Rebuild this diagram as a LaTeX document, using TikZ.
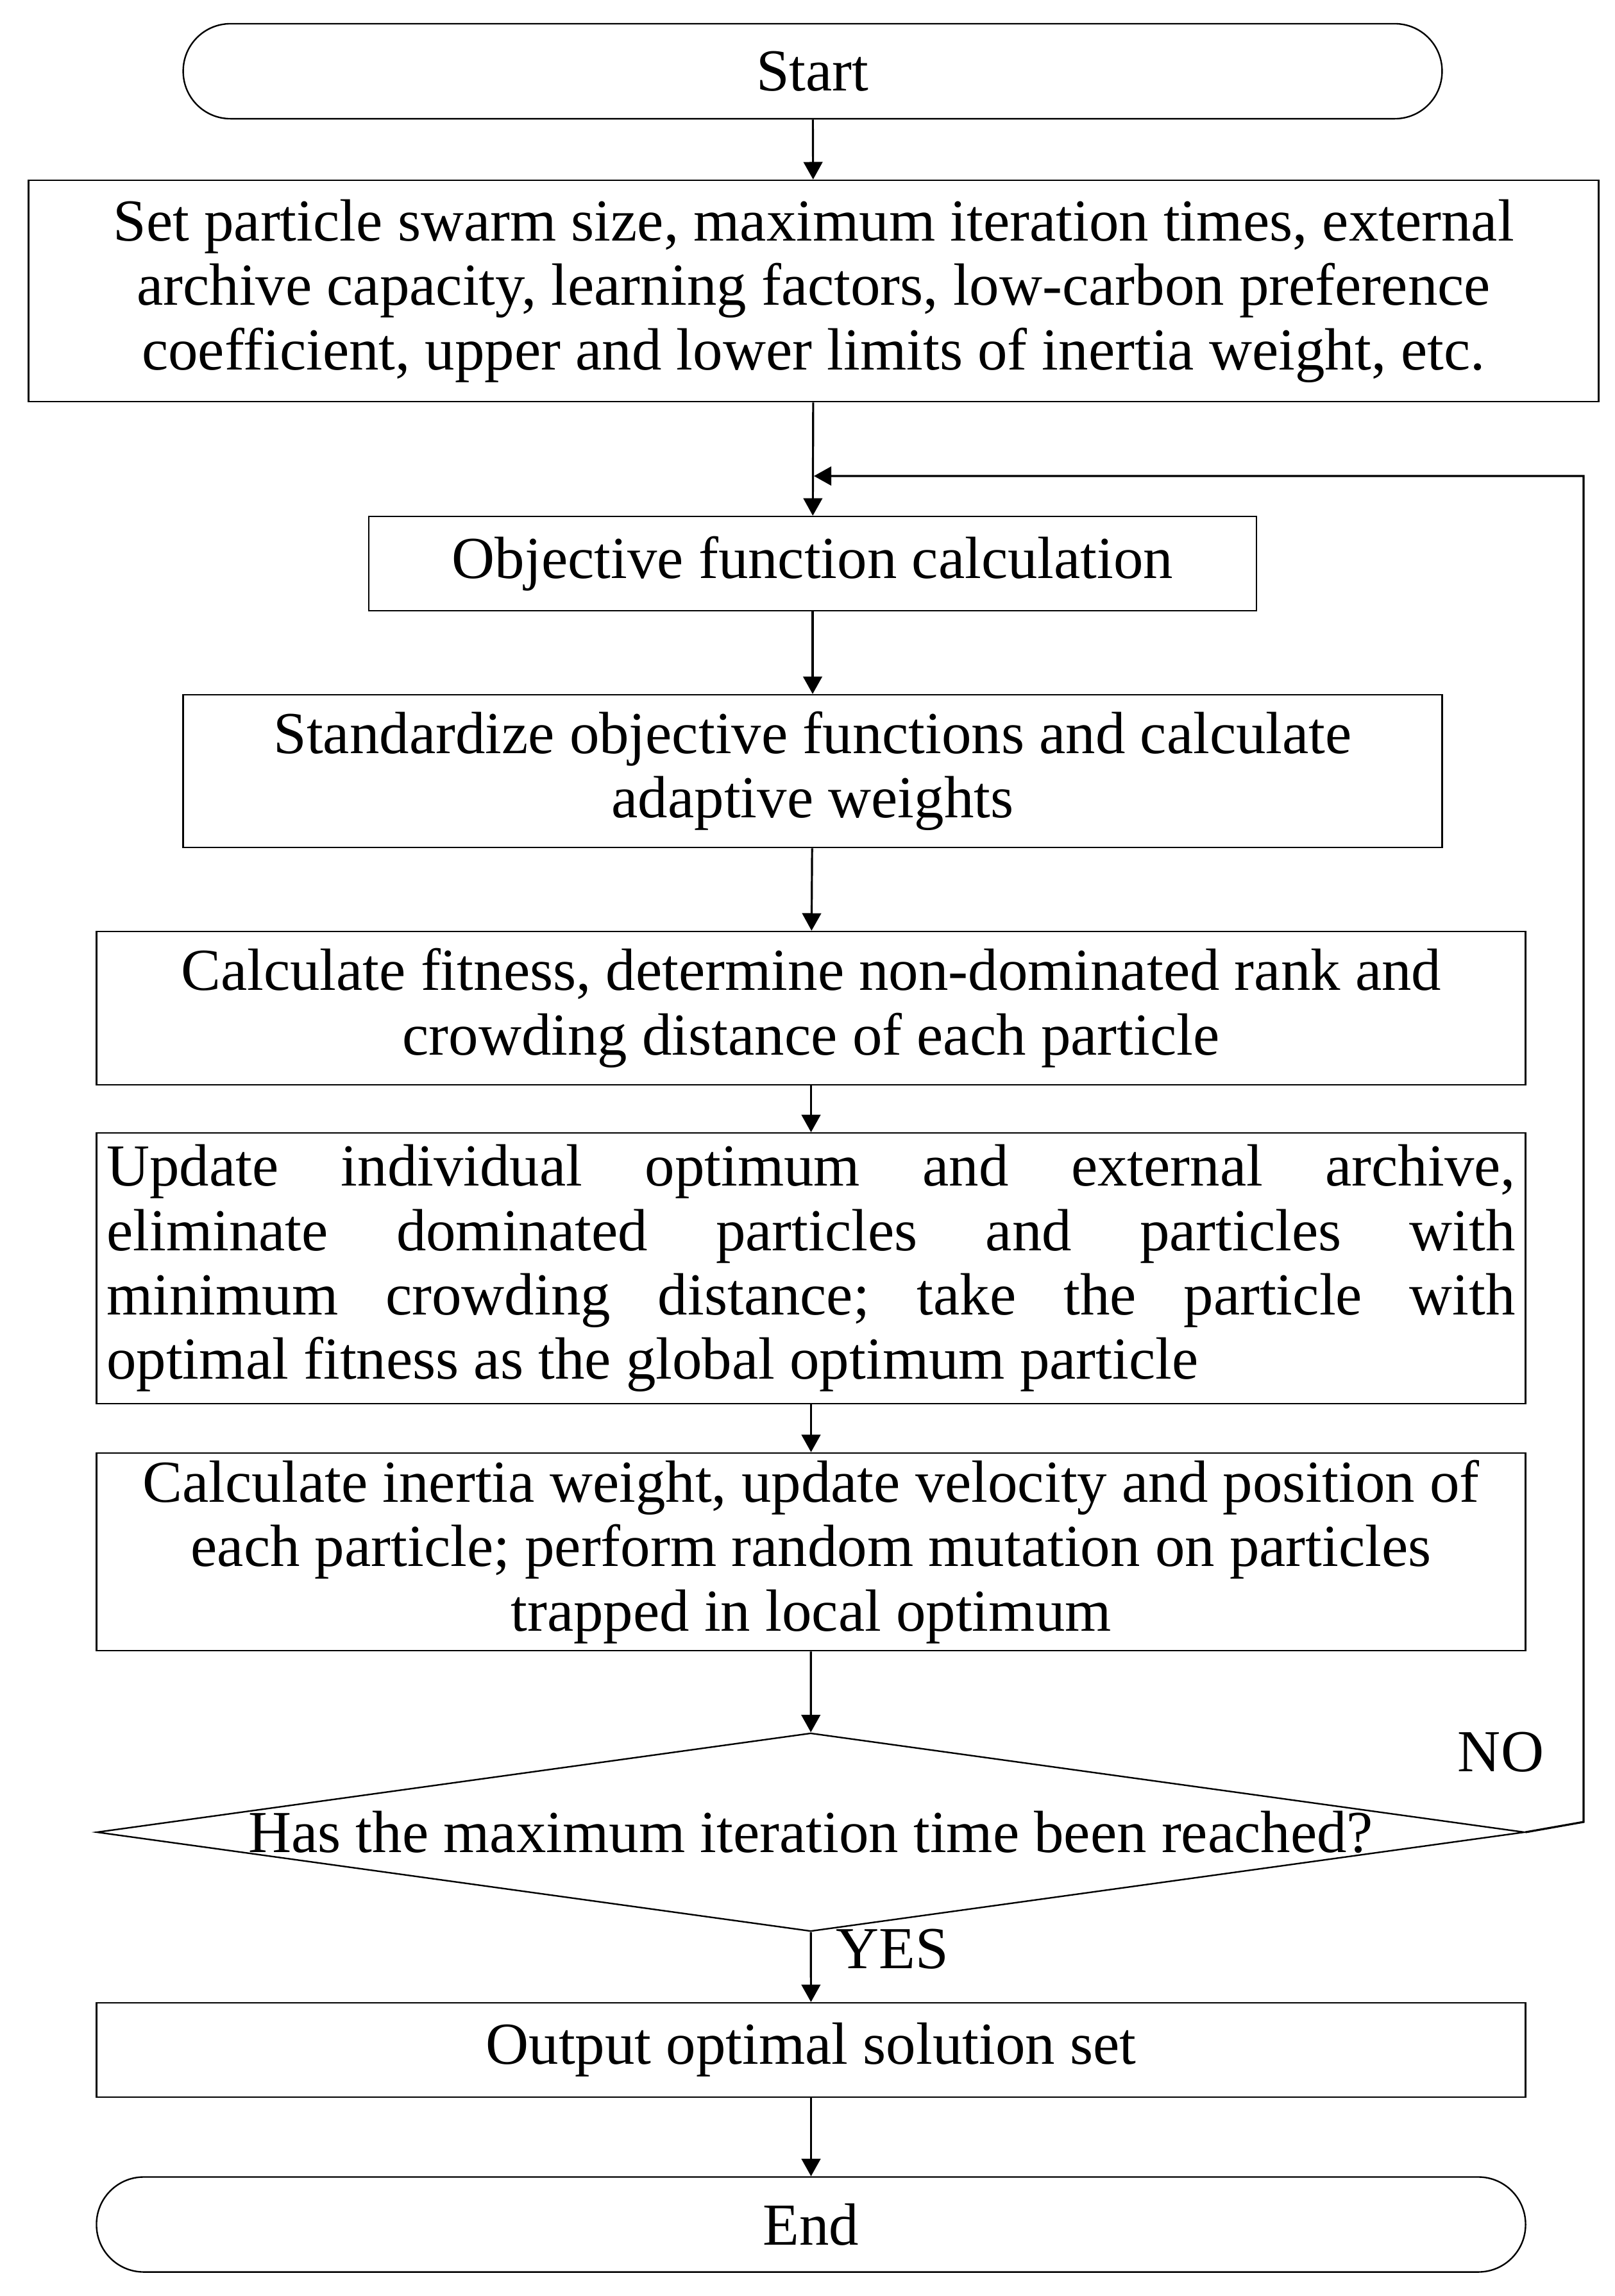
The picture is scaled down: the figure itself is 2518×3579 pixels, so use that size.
\documentclass[tikz,border=0pt]{standalone}
\usepackage{fontspec}
\setmainfont{Liberation Serif}
\usepackage{tikz}
\usetikzlibrary{shapes.geometric, arrows.meta}

\begin{document}
\begin{tikzpicture}[x=0.008825cm, y=-0.008825cm,
    font=\fontsize{23.3}{25.2}\selectfont\frenchspacing,
    terminal/.style={draw, line width=0.6pt, rounded corners=0.65cm, minimum width=17.31cm, minimum height=1.306cm, inner sep=0pt},
    process/.style={draw, line width=0.6pt, align=center, minimum width=19.65cm, inner sep=0pt},
    decision/.style={draw, line width=0.6pt, diamond, aspect=7.2, inner sep=0pt, minimum width=19.60cm, minimum height=2.71cm},
    flow/.style={line width=0.8pt, -{Triangle[length=2.4mm, width=2.6mm]}}]

    \useasboundingbox (0,0) rectangle (2518,3579);

    % Nodes of the flow chart
    \node[terminal] (start) at (1267,111) {Start};
    \node[process, minimum width=21.59cm, minimum height=3.045cm] (setup) at (1268.5,453.5)
        {Set particle swarm size, maximum iteration times, external\\
         archive capacity, learning factors, low-carbon preference\\
         coefficient, upper and lower limits of inertia weight, etc.};
    \node[process, minimum width=12.21cm, minimum height=1.297cm] (obj) at (1267,878.5)
        {Objective function calculation};
    \node[process, minimum width=17.31cm, minimum height=2.10cm] (std) at (1267,1202)
        {Standardize objective functions and calculate\\ adaptive weights};
    \node[process, minimum height=2.11cm] (fit) at (1264.5,1571.5)
        {Calculate fitness, determine non-dominated rank and\\ crowding distance of each particle};
    \node[process, minimum height=3.72cm, text width=19.37cm, align=justify] (upd) at (1264.5,1977)
        {Update individual optimum and external archive,\linebreak
         eliminate dominated particles and particles with\linebreak
         minimum crowding distance; take the particle with\linebreak
         optimal fitness as the global optimum particle};
    \node[process, minimum height=2.72cm] (inr) at (1264.5,2419)
        {Calculate inertia weight, update velocity and position of\\
         each particle; perform random mutation on particles\\
         trapped in local optimum};
    \node[decision] (dec) at (1264,2856) {Has the maximum iteration time been reached?};
    \node[process, minimum height=1.297cm] (out) at (1264.5,3195.5) {Output optimal solution set};
    \node[terminal, minimum width=19.65cm] (end) at (1264.5,3467.5) {End};

    % Loop back
    \coordinate (loopin) at (1269,742);
    \coordinate (loopcorner) at (2469,2840);

    % Draw the connectors
    \draw[flow] (start) -- (setup);
    \draw[flow] (setup) -- (obj);
    \draw[flow] (obj) -- (std);
    \draw[flow] (std) -- (fit);
    \draw[flow] (fit) -- (upd);
    \draw[flow] (upd) -- (inr);
    \draw[flow] (inr) -- (dec);
    \draw[flow] (dec) -- (out);
    \draw[flow] (out) -- (end);
    \draw[flow] (dec.east) -- (loopcorner) |- (loopin);

    % Branch labels
    \node (no) at (2340,2731) {NO};
    \node (yes) at (1391,3038) {YES};
\end{tikzpicture}
\end{document}
